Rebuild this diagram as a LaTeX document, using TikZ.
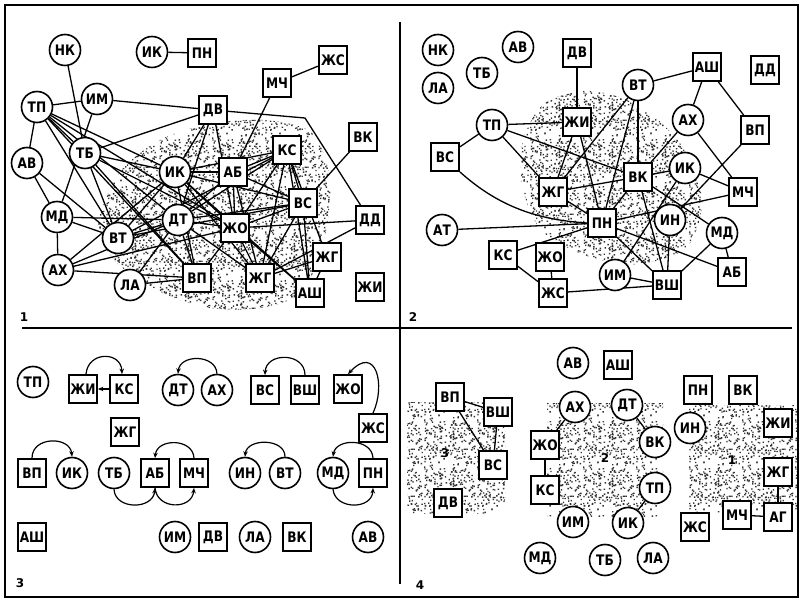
\documentclass[tikz,border=0pt]{standalone}
\usepackage{fontspec}
\setmainfont{DejaVu Sans}
\newfontfamily\labfont{DejaVu Sans}[FakeStretch=0.84]
\usetikzlibrary{arrows.meta,patterns}
\pgfdeclarelayer{bg}
\pgfdeclarelayer{edges}
\pgfsetlayers{bg,edges,main}
\newcommand\lab{\labfont\bfseries\fontsize{14.5}{15}\selectfont}
\pgfdeclarepatternformonly{stip}{\pgfqpoint{0pt}{0pt}}{\pgfqpoint{53pt}{47pt}}{\pgfqpoint{53pt}{47pt}}{%
  \pgfmathsetseed{11}%
  \foreach \i in {1,...,220}{%
    \pgfmathsetmacro\px{51.6*rnd}\pgfmathsetmacro\py{45.6*rnd}%
    \pgfpathrectangle{\pgfpoint{\px pt}{\py pt}}{\pgfpoint{1.4pt}{1.4pt}}%
    \pgfusepath{fill}}}
\begin{document}
\begin{tikzpicture}[x=1pt,y=-1pt,
  bx/.style={draw, line width=1.8, fill=white, minimum width=28, minimum height=28, inner sep=0, font=\lab},
  cr/.style={draw, circle, line width=1.6, fill=white, minimum size=31, inner sep=0, font=\lab},
  ed/.style={line width=1.3},
  ar/.style={line width=1.2, -{Stealth[length=5.5pt,width=4.5pt]}},
  stipple/.style={pattern=stip, pattern color=black!80},
  num/.style={font=\bfseries\fontsize{12}{14}\selectfont, inner sep=0}]
\useasboundingbox (0,0) rectangle (803,601);
% frame
\draw[line width=2.2] (5,5) rectangle (798,597);
\draw[line width=1.5] (400,22) coordinate (vtop) -- (400,584) coordinate (vbot);
\draw[line width=1.5] (22,328) coordinate (hl) -- (792,328) coordinate (hr);
\node[num] (n1) at (24,317) {1};
\node[num] (n2) at (413,317) {2};
\node[num] (n3) at (20,583) {3};
\node[num] (n4) at (420,585) {4};

% stippled areas
\begin{pgfonlayer}{bg}
\fill[stipple] plot[smooth cycle] coordinates {(98,225) (120,172) (160,140) (210,124) (265,120) (312,133) (330,180) (324,240) (302,292) (260,308) (210,308) (165,294) (118,264)};
\fill[stipple] plot[smooth cycle] coordinates {(523,140) (545,103) (590,91) (640,106) (682,146) (702,200) (687,247) (640,264) (590,257) (543,232) (523,190)};
\fill[stipple] (407,402) rectangle (505,513);
\fill[stipple] (547,403) rectangle (663,516);
\fill[stipple] (688,405) rectangle (797,512);
\end{pgfonlayer}

% ---------------- Quadrant 1 ----------------
\node[cr] (q1nk) at (65,50) {НК};
\node[cr] (q1ik0) at (152,52) {ИК};
\node[bx] (q1pn) at (202,53) {ПН};
\node[bx] (q1zs) at (333,60) {ЖС};
\node[bx] (q1mch) at (277,83) {МЧ};
\node[cr] (q1tp) at (37,107) {ТП};
\node[cr] (q1im) at (97,99) {ИМ};
\node[bx] (q1dv) at (213,110) {ДВ};
\node[cr] (q1tb) at (85,153) {ТБ};
\node[cr] (q1av) at (27,163) {АВ};
\node[cr] (q1ik) at (175,172) {ИК};
\node[bx] (q1ab) at (233,172) {АБ};
\node[bx] (q1ks) at (287,150) {КС};
\node[bx] (q1vk) at (363,137) {ВК};
\node[bx] (q1vs) at (303,203) {ВС};
\node[cr] (q1md) at (57,217) {МД};
\node[cr] (q1dt) at (178,220) {ДТ};
\node[cr] (q1vt) at (118,238) {ВТ};
\node[bx] (q1zo) at (235,228) {ЖО};
\node[bx] (q1dd) at (370,220) {ДД};
\node[bx] (q1zg2) at (327,257) {ЖГ};
\node[cr] (q1ax) at (58,270) {АХ};
\node[cr] (q1la) at (130,285) {ЛА};
\node[bx] (q1vp) at (197,278) {ВП};
\node[bx] (q1zg) at (260,278) {ЖГ};
\node[bx] (q1ash) at (310,293) {АШ};
\node[bx] (q1zi) at (370,287) {ЖИ};
\coordinate (q1bend) at (305,118);

\begin{pgfonlayer}{edges}
\foreach \a/\b in {q1ik0/q1pn, q1mch/q1zs, q1mch/q1ab, q1nk/q1tb, q1tp/q1im, q1tp/q1av, q1tp/q1tb,
  q1tp/q1ik, q1tp/q1dt, q1tp/q1zo, q1tp/q1vt, q1tp/q1vp, q1im/q1dv, q1im/q1md, q1dv/q1tb, q1dv/q1ik,
  q1dv/q1dt, q1dv/q1zo, q1av/q1md, q1av/q1vt, q1md/q1ax, q1md/q1vt, q1md/q1dt, q1tb/q1vt, q1tb/q1ik,
  q1tb/q1zo, q1tb/q1vp, q1ax/q1ik, q1ax/q1dt, q1ax/q1vp, q1ax/q1zo, q1la/q1vp, q1la/q1dt, q1vt/q1ik,
  q1vt/q1dt, q1vt/q1ks, q1vt/q1vs, q1ik/q1ab, q1ik/q1ks, q1ik/q1vs, q1ik/q1zo, q1ik/q1zg, q1ik/q1ash,
  q1ik/q1vp, q1dt/q1ab, q1dt/q1ks, q1dt/q1zo, q1dt/q1vp, q1dt/q1zg, q1dt/q1vs, q1ab/q1zo, q1ab/q1vs,
  q1ab/q1ks, q1ab/q1zg, q1ks/q1vs, q1ks/q1zo, q1ks/q1zg, q1ks/q1ash, q1ks/q1zg2, q1vk/q1vs, q1vs/q1zg,
  q1vs/q1ash, q1vs/q1zo, q1zo/q1dd, q1zo/q1zg, q1zo/q1ash, q1zo/q1vp, q1zg/q1zg2, q1zg/q1dd, q1zg2/q1ash}
  \draw[ed] (\a) -- (\b);
\draw[ed] (q1dv) -- (q1bend) -- (q1dd);
\end{pgfonlayer}

% ---------------- Quadrant 2 ----------------
\node[cr] (q2nk) at (438,50) {НК};
\node[cr] (q2av) at (518,47) {АВ};
\node[bx] (q2dv) at (577,53) {ДВ};
\node[cr] (q2la) at (438,88) {ЛА};
\node[cr] (q2tb) at (482,73) {ТБ};
\node[cr] (q2vt) at (638,85) {ВТ};
\node[bx] (q2ash) at (707,67) {АШ};
\node[bx] (q2dd) at (765,70) {ДД};
\node[cr] (q2tp) at (492,125) {ТП};
\node[bx] (q2zi) at (577,122) {ЖИ};
\node[cr] (q2ax) at (688,120) {АХ};
\node[bx] (q2vp) at (755,130) {ВП};
\node[bx] (q2vs) at (445,157) {ВС};
\node[bx] (q2vk) at (638,177) {ВК};
\node[cr] (q2ik) at (685,168) {ИК};
\node[bx] (q2zg) at (553,192) {ЖГ};
\node[bx] (q2mch) at (743,192) {МЧ};
\node[bx] (q2pn) at (602,223) {ПН};
\node[cr] (q2at) at (442,230) {АТ};
\node[cr] (q2in) at (670,220) {ИН};
\node[cr] (q2md) at (722,233) {МД};
\node[bx] (q2ks) at (503,255) {КС};
\node[bx] (q2zo) at (550,257) {ЖО};
\node[bx] (q2ab) at (732,272) {АБ};
\node[cr] (q2im) at (615,275) {ИМ};
\node[bx] (q2vsh) at (667,285) {ВШ};
\node[bx] (q2zs) at (553,293) {ЖС};

\begin{pgfonlayer}{edges}
\foreach \a/\b in {q2dv/q2zi, q2tp/q2zi, q2tp/q2vs, q2tp/q2zg, q2tp/q2vk, q2vt/q2ash, q2vt/q2zg,
  q2vt/q2vk, q2vt/q2pn, q2ash/q2ax, q2ash/q2vp, q2ax/q2vk, q2ax/q2mch, q2vp/q2in, q2zi/q2zg, q2zi/q2pn,
  q2at/q2pn, q2zg/q2vk, q2zg/q2pn, q2vk/q2ik, q2vk/q2pn, q2vk/q2md, q2vk/q2vsh, q2ik/q2mch, q2ik/q2im,
  q2pn/q2mch, q2pn/q2ab, q2pn/q2vsh, q2pn/q2ks, q2in/q2vsh, q2md/q2vsh, q2md/q2ab, q2im/q2vsh,
  q2zs/q2vsh, q2zs/q2zo, q2zs/q2ks}
  \draw[ed] (\a) -- (\b);
\draw[ed] (q2vs.south east) .. controls (500,208) and (540,220) .. (q2pn.west);
\end{pgfonlayer}

% ---------------- Quadrant 3 ----------------
\node[cr] (q3tp) at (33,382) {ТП};
\node[bx] (q3zi) at (83,389) {ЖИ};
\node[bx] (q3ks) at (124,389) {КС};
\node[bx] (q3zg) at (125,432) {ЖГ};
\node[cr] (q3dt) at (178,390) {ДТ};
\node[cr] (q3ax) at (217,390) {АХ};
\node[bx] (q3vs) at (265,390) {ВС};
\node[bx] (q3vsh) at (305,390) {ВШ};
\node[bx] (q3zo) at (348,389) {ЖО};
\node[bx] (q3zs) at (373,428) {ЖС};
\node[bx] (q3vp) at (32,473) {ВП};
\node[cr] (q3ik) at (72,473) {ИК};
\node[cr] (q3tb) at (114,473) {ТБ};
\node[bx] (q3ab) at (155,473) {АБ};
\node[bx] (q3mch) at (194,473) {МЧ};
\node[cr] (q3in) at (245,473) {ИН};
\node[cr] (q3vt) at (285,473) {ВТ};
\node[cr] (q3md) at (333,473) {МД};
\node[bx] (q3pn) at (373,473) {ПН};
\node[bx] (q3ash) at (32,537) {АШ};
\node[cr] (q3im) at (175,537) {ИМ};
\node[bx] (q3dv) at (213,537) {ДВ};
\node[cr] (q3la) at (255,537) {ЛА};
\node[bx] (q3vk) at (297,537) {ВК};
\node[cr] (q3av) at (368,537) {АВ};

\draw[ar] (q3ks.west) -- (q3zi.east);
\draw[ar] ([xshift=3]q3zi.north) .. controls (88,351) and (121,351) .. ([xshift=-2]q3ks.north);
\draw[ar] (q3ax.north) .. controls (216,354) and (180,354) .. (q3dt.north);
\draw[ar] (q3vsh.north) .. controls (305,352) and (266,352) .. (q3vs.north);
\draw[ar] (q3zs.north) .. controls (386,385) and (376,344) .. (q3zo.north);
\draw[ar] (q3vp.north) .. controls (32,436) and (70,436) .. (q3ik.north);
\draw[ar] (q3mch.north) .. controls (193,438) and (157,438) .. (q3ab.north);
\draw[ar] (q3tb.south) .. controls (115,510) and (153,510) .. (q3ab.south);
\draw[ar] (q3ab.south) .. controls (157,510) and (192,510) .. (q3mch.south);
\draw[ar] (q3vt.north) .. controls (285,438) and (247,438) .. (q3in.north);
\draw[ar] (q3pn.north) .. controls (372,438) and (336,438) .. (q3md.north);
\draw[ar] (q3md.south) .. controls (335,510) and (372,510) .. (q3pn.south);

% ---------------- Quadrant 4 ----------------
\node[bx] (q4vp) at (450,397) {ВП};
\node[bx] (q4vsh) at (498,412) {ВШ};
\node[bx] (q4vs) at (493,465) {ВС};
\node[bx] (q4dv) at (448,503) {ДВ};
\node[cr] (q4av) at (573,363) {АВ};
\node[bx] (q4ash) at (618,365) {АШ};
\node[cr] (q4ax) at (575,407) {АХ};
\node[cr] (q4dt) at (627,405) {ДТ};
\node[bx] (q4zo) at (545,445) {ЖО};
\node[cr] (q4vk) at (655,442) {ВК};
\node[bx] (q4ks) at (545,490) {КС};
\node[cr] (q4tp) at (655,488) {ТП};
\node[cr] (q4im) at (573,522) {ИМ};
\node[cr] (q4ik) at (628,523) {ИК};
\node[cr] (q4md) at (540,558) {МД};
\node[cr] (q4tb) at (605,560) {ТБ};
\node[cr] (q4la) at (653,558) {ЛА};
\node[bx] (q4pn) at (698,390) {ПН};
\node[bx] (q4vk2) at (743,390) {ВК};
\node[cr] (q4in) at (690,428) {ИН};
\node[bx] (q4zi) at (778,423) {ЖИ};
\node[bx] (q4zg) at (778,472) {ЖГ};
\node[bx] (q4ag) at (778,517) {АГ};
\node[bx] (q4mch) at (737,515) {МЧ};
\node[bx] (q4zs) at (695,527) {ЖС};
\node[num] (g3) at (445,453) {3};
\node[num] (g2) at (605,458) {2};
\node[num] (g1) at (732,460) {1};
\begin{pgfonlayer}{edges}
\foreach \a/\b in {q4vp/q4vsh, q4vp/q4vs, q4vsh/q4vs, q4ax/q4zo, q4dt/q4vk, q4zo/q4ks, q4ik/q4tp,
  q4zg/q4ag, q4mch/q4ag}
  \draw[ed] (\a) -- (\b);
\end{pgfonlayer}
\end{tikzpicture}
\end{document}
